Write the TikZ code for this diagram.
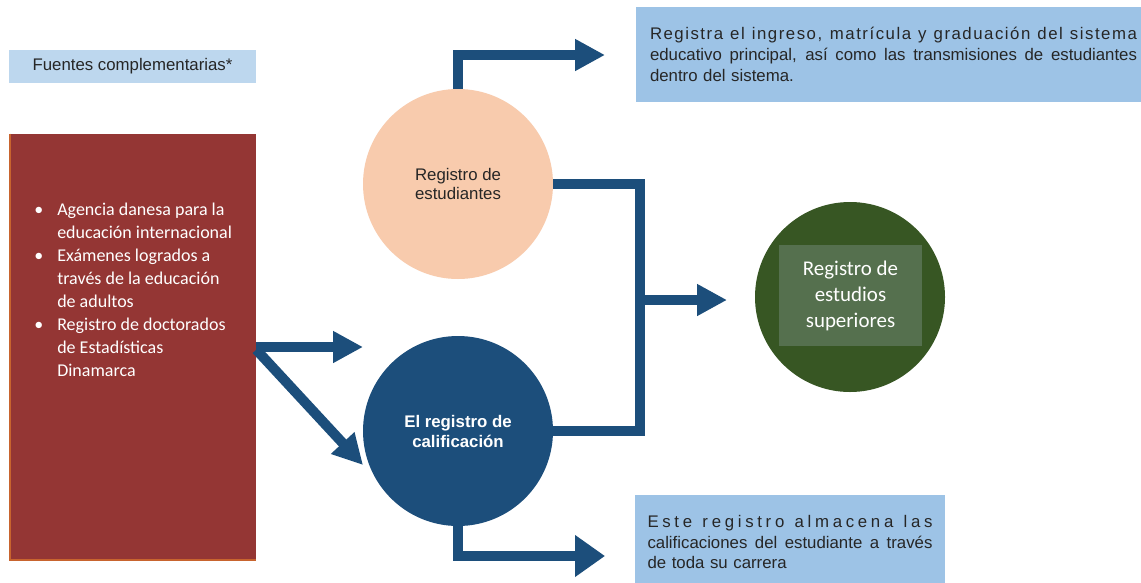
\documentclass[tikz,border=0pt]{standalone}
\usepackage{fontspec}
\setmainfont{Liberation Sans}
\newfontfamily\calibri{Carlito}
\usetikzlibrary{arrows.meta}
\definecolor{azulclaro}{HTML}{BDD7EE}
\definecolor{azulcaja}{HTML}{9DC3E6}
\definecolor{rojo}{HTML}{943634}
\definecolor{naranja}{HTML}{C8642E}
\definecolor{durazno}{HTML}{F8CBAD}
\definecolor{marino}{HTML}{1C4E7B}
\definecolor{verde}{HTML}{375623}
\definecolor{verdeclaro}{HTML}{55704E}
\definecolor{gristexto}{HTML}{262626}
\newcommand{\renglon}[2]{\noindent\hbox to #1{\spaceskip=.278em plus 1fil\relax #2}}

\begin{document}
\begin{tikzpicture}[x=0.75pt, y=-0.75pt,
    linea/.style={draw=marino, line width=7.5pt},
    flecha/.style={linea, -{Triangle[length=22.5pt, width=22.5pt]}},
    flechagrande/.style={linea, -{Triangle[length=22.5pt, width=30pt]}},
    circulo/.style={circle, minimum size=142.5pt, inner sep=0pt, align=center, font=\fontsize{12.6}{14}\selectfont},
    caja/.style={fill=azulcaja, text=gristexto, align=left, inner ysep=0pt, font=\fontsize{12.6}{15.6}\selectfont}]
\fill[white, use as bounding box] (0,0) rectangle (1141,582);

\node[fill=azulclaro, text=gristexto, minimum width=185.25pt, minimum height=24.75pt, inner sep=0pt,
      font=\fontsize{12.6}{15}\selectfont] (fuentes) at (132.5,66.5) {Fuentes complementarias*};

\node[fill=rojo, minimum width=184.5pt, minimum height=319.5pt, inner sep=0pt] (complementarias) at (133,347) {};
\draw[naranja, line width=1.5pt] (complementarias.north west) -- (complementarias.south west) -- (complementarias.south east);
\node[anchor=north west, inner sep=0pt, text=white, font=\calibri\fontsize{13.5}{17.3}\selectfont] (lista) at (34,199)
{\begin{tabular}{@{}p{17.25pt}@{}l@{}}
\textbullet & Agencia danesa para la\\
 & educación internacional\\
\textbullet & Exámenes logrados a\\
 & través de la educación\\
 & de adultos\\
\textbullet & Registro de doctorados\\
 & de Estadísticas\\
 & Dinamarca
\end{tabular}};

\node[circulo, fill=durazno, text=gristexto] (estudiantes) at (458,184) {Registro de\\estudiantes};
\node[circulo, fill=marino, text=white, font=\bfseries\fontsize{12.6}{15}\selectfont] (calificacion) at (458,431) {El registro de\\calificación};
\node[circulo, fill=verde] (superiores) at (850,297) {};
\node[fill=verdeclaro, minimum width=107.25pt, minimum height=75.75pt, text=white, align=center,
      font=\calibri\fontsize{15.7}{19.5}\selectfont] (textoverde) at (850.5,295.5) {Registro de\\estudios\\superiores};

\node[caja, text width=365.25pt, inner xsep=10.5pt, minimum height=71.25pt] (registra) at (893.5,54.5)
{\renglon{365.25pt}{\addfontfeature{LetterSpace=9}Registra el ingreso, matrícula y graduación del sistema}\\
\renglon{365.25pt}{educativo principal, así como las transmisiones de estudiantes}\\
dentro del sistema.};
\node[caja, text width=213.75pt, inner xsep=9.375pt, minimum height=70.5pt] (almacena) at (790,542)
{\renglon{213.75pt}{\addfontfeature{LetterSpace=22}Este registro almacena las}\\
\renglon{213.75pt}{calificaciones del estudiante a través}\\
de toda su carrera};

\coordinate (puntaarriba) at (605,55);
\coordinate (union) at (640,300);
\coordinate (puntaverde) at (727,300);
\coordinate (puntaabajo) at (605,556);
\coordinate (puntarecta) at (363,347);
\coordinate (puntadiagonal) at (363,465);

\draw[flecha] (estudiantes.north) |- (puntaarriba);
\draw[linea] (estudiantes.east) -| (union) |- (calificacion.east);
\draw[flecha] (union) -- (puntaverde);
\draw[flechagrande] (calificacion.south) |- (puntaabajo);
\draw[flecha] (complementarias.east) -- (puntarecta);
\draw[flecha] ([yshift=-2pt]complementarias.east) -- (puntadiagonal);

\end{tikzpicture}
\end{document}
